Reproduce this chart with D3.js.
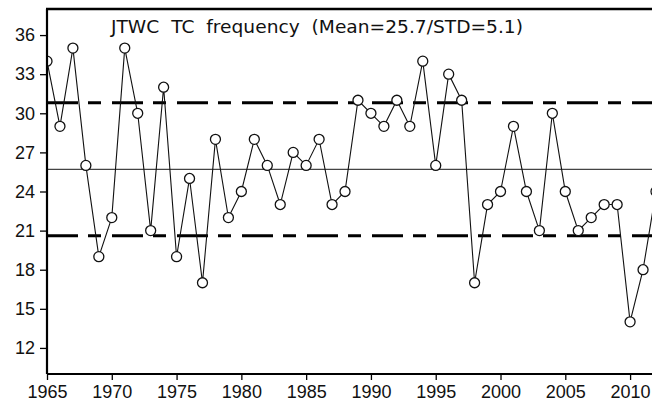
<!DOCTYPE html>
<html>
<head>
<meta charset="utf-8">
<script src="https://cdn.jsdelivr.net/npm/d3@7"></script>
<style>
  html, body { margin: 0; padding: 0; background: #fff; overflow: hidden; }
  svg { display: block; }
  .tick text { font-family: "Liberation Sans", Arial, sans-serif; font-size: 18px; fill: #111; }
</style>
</head>
<body>
<div id="chart"></div>
<script>
// JTWC TC frequency per year, 1965-2012
var years = d3.range(1965, 2013);
var counts = [34, 29, 35, 26, 19, 22, 35, 30, 21, 32,
              19, 25, 17, 28, 22, 24, 28, 26, 23, 27,
              26, 28, 23, 24, 31, 30, 29, 31, 29, 34,
              26, 33, 31, 17, 23, 24, 29, 24, 21, 30,
              24, 21, 22, 23, 23, 14, 18, 24];
var meanValue = 25.7, stdValue = 5.1;
var yTicks = [12, 15, 18, 21, 24, 27, 30, 33, 36];
var xTicks = [1965, 1970, 1975, 1980, 1985, 1990, 1995, 2000, 2005, 2010];
var titleText = "JTWC  TC  frequency  (Mean=25.7/STD=5.1)";

var width = 652, height = 403;
var plotLeft = 47, plotTop = 9, plotBottom = 374, plotRight = 680;

var svg = d3.select("#chart").append("svg")
    .attr("width", width)
    .attr("height", height);

var x = d3.scaleLinear().domain([1965, 2012]).range([plotLeft, 656]);
var y = d3.scaleLinear().domain([10, 38]).range([plotBottom, plotTop]);

svg.append("clipPath").attr("id", "plotclip")
  .append("rect")
    .attr("x", plotLeft).attr("y", plotTop)
    .attr("width", plotRight - plotLeft).attr("height", plotBottom - plotTop);

var plot = svg.append("g").attr("clip-path", "url(#plotclip)");

// mean line
plot.append("line")
    .attr("x1", plotLeft).attr("x2", plotRight)
    .attr("y1", y(meanValue)).attr("y2", y(meanValue))
    .attr("stroke", "#444").attr("stroke-width", 1.2);

// mean +/- std dashed lines
[meanValue + stdValue, meanValue - stdValue].forEach(function(v) {
  plot.append("line")
      .attr("x1", plotLeft).attr("x2", plotRight)
      .attr("y1", y(v)).attr("y2", y(v))
      .attr("stroke", "#000").attr("stroke-width", 3)
      .attr("stroke-dasharray", "31,10,13,11");
});

var series = years.map(function(yr, i) { return {year: yr, value: counts[i]}; });

plot.append("path")
    .datum(series)
    .attr("fill", "none")
    .attr("stroke", "#111")
    .attr("stroke-width", 1.1)
    .attr("d", d3.line()
      .x(function(d) { return x(d.year); })
      .y(function(d) { return y(d.value); }));

plot.selectAll("circle.pt")
    .data(series)
  .enter().append("circle")
    .attr("class", "pt")
    .attr("cx", function(d) { return x(d.year); })
    .attr("cy", function(d) { return y(d.value); })
    .attr("r", 5)
    .attr("fill", "#fff")
    .attr("stroke", "#111")
    .attr("stroke-width", 1.3);

// frame top
svg.append("line")
    .attr("x1", plotLeft - 1).attr("x2", width)
    .attr("y1", plotTop).attr("y2", plotTop)
    .attr("stroke", "#000").attr("stroke-width", 2.5);

// axes
var yAxis = svg.append("g")
    .attr("transform", "translate(" + plotLeft + ",0)")
    .call(d3.axisLeft(y).tickValues(yTicks).tickSize(7).tickPadding(5).tickFormat(d3.format("d")));
yAxis.select(".domain").attr("stroke-width", 2.2).attr("d", "M0," + plotTop + "V" + plotBottom);
yAxis.selectAll(".tick line").attr("stroke-width", 1.3);

var xAxis = svg.append("g")
    .attr("transform", "translate(0," + plotBottom + ")")
    .call(d3.axisBottom(x).tickValues(xTicks).tickSize(6).tickPadding(5).tickFormat(d3.format("d")));
xAxis.select(".domain").attr("stroke-width", 2.2).attr("d", "M" + plotLeft + ",0H" + width);
xAxis.selectAll(".tick line").attr("stroke-width", 1.3);

// title
svg.append("text")
    .attr("x", 111)
    .attr("y", 33)
    .attr("xml:space", "preserve")
    .attr("textLength", 412)
    .attr("lengthAdjust", "spacingAndGlyphs")
    .style("font-family", "'DejaVu Sans', sans-serif")
    .style("font-size", "17px")
    .style("fill", "#111")
    .text(titleText);
</script>
</body>
</html>
